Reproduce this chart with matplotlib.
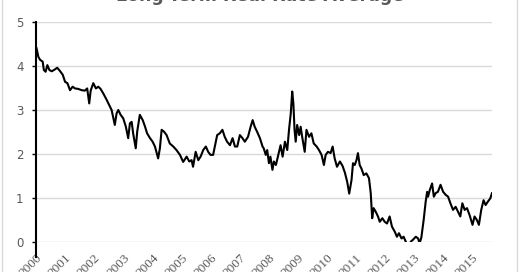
import matplotlib
matplotlib.use("Agg")
import matplotlib.pyplot as plt
from matplotlib.patches import Rectangle

# long-term real rate average (decimal year, percent)
years = [2000.02, 2000.08, 2000.14, 2000.23, 2000.27, 2000.33, 2000.39, 2000.46, 2000.54, 2000.62,
         2000.73, 2000.82, 2000.92, 2001.00, 2001.08, 2001.17, 2001.26, 2001.34, 2001.45, 2001.57,
         2001.68, 2001.76, 2001.83, 2001.88, 2001.97, 2002.06, 2002.14, 2002.22, 2002.31, 2002.43,
         2002.52, 2002.60, 2002.66, 2002.71, 2002.77, 2002.83, 2002.91, 2003.00, 2003.09, 2003.17,
         2003.23, 2003.29, 2003.34, 2003.43, 2003.48, 2003.57, 2003.67, 2003.75, 2003.82, 2003.92,
         2004.01, 2004.09, 2004.20, 2004.26, 2004.32, 2004.40, 2004.49, 2004.60, 2004.72, 2004.83,
         2004.95, 2005.06, 2005.18, 2005.27, 2005.35, 2005.40, 2005.49, 2005.58, 2005.66, 2005.75,
         2005.84, 2005.92, 2006.00, 2006.09, 2006.15, 2006.23, 2006.32, 2006.41, 2006.49, 2006.57,
         2006.67, 2006.76, 2006.84, 2006.92, 2007.01, 2007.10, 2007.18, 2007.29, 2007.38, 2007.45,
         2007.52, 2007.60, 2007.70, 2007.79, 2007.83, 2007.90, 2007.95, 2008.01, 2008.06, 2008.13,
         2008.18, 2008.25, 2008.33, 2008.41, 2008.48, 2008.56, 2008.64, 2008.70, 2008.76, 2008.81,
         2008.85, 2008.89, 2008.93, 2008.98, 2009.05, 2009.10, 2009.16, 2009.24, 2009.30, 2009.39,
         2009.47, 2009.55, 2009.65, 2009.73, 2009.82, 2009.90, 2009.96, 2010.04, 2010.13, 2010.20,
         2010.27, 2010.35, 2010.45, 2010.54, 2010.62, 2010.70, 2010.77, 2010.85, 2010.90, 2010.96,
         2011.02, 2011.07, 2011.13, 2011.19, 2011.27, 2011.36, 2011.45, 2011.51, 2011.56, 2011.61,
         2011.68, 2011.76, 2011.82, 2011.91, 2011.99, 2012.07, 2012.16, 2012.24, 2012.34, 2012.41,
         2012.48, 2012.57, 2012.64, 2012.74, 2012.82, 2012.89, 2012.96, 2013.06, 2013.14, 2013.19,
         2013.25, 2013.33, 2013.40, 2013.45, 2013.48, 2013.54, 2013.62, 2013.68, 2013.74, 2013.82,
         2013.91, 2014.00, 2014.09, 2014.17, 2014.25, 2014.34, 2014.43, 2014.51, 2014.59, 2014.66,
         2014.74, 2014.82, 2014.91, 2015.01, 2015.08, 2015.16, 2015.23, 2015.31, 2015.39, 2015.46,
         2015.54, 2015.62, 2015.68]
rate = [4.40, 4.21, 4.14, 4.10, 3.91, 3.87, 4.02, 3.91, 3.88, 3.91,
        3.96, 3.89, 3.80, 3.64, 3.61, 3.45, 3.53, 3.49, 3.48, 3.45,
        3.44, 3.49, 3.15, 3.44, 3.61, 3.49, 3.53, 3.48, 3.38, 3.23,
        3.11, 3.00, 2.81, 2.66, 2.92, 3.00, 2.89, 2.81, 2.62, 2.36,
        2.70, 2.73, 2.47, 2.13, 2.51, 2.89, 2.77, 2.62, 2.47, 2.36,
        2.28, 2.17, 1.90, 2.13, 2.55, 2.51, 2.43, 2.24, 2.17, 2.09,
        1.98, 1.82, 1.94, 1.83, 1.86, 1.71, 2.05, 1.86, 1.94, 2.09,
        2.17, 2.05, 1.98, 1.98, 2.17, 2.43, 2.47, 2.55, 2.39, 2.28,
        2.20, 2.36, 2.17, 2.17, 2.43, 2.36, 2.28, 2.39, 2.62, 2.77,
        2.62, 2.51, 2.36, 2.17, 2.13, 1.98, 2.09, 1.79, 1.94, 1.64,
        1.83, 1.75, 1.98, 2.20, 1.94, 2.28, 2.09, 2.55, 2.92, 3.42,
        3.15, 2.55, 2.28, 2.66, 2.43, 2.62, 2.36, 2.05, 2.55, 2.39,
        2.47, 2.24, 2.17, 2.09, 1.98, 1.75, 1.98, 2.05, 2.02, 2.17,
        1.90, 1.71, 1.83, 1.73, 1.58, 1.37, 1.10, 1.41, 1.79, 1.75,
        1.86, 2.02, 1.75, 1.67, 1.52, 1.56, 1.45, 1.11, 0.54, 0.77,
        0.69, 0.58, 0.46, 0.54, 0.46, 0.42, 0.58, 0.35, 0.23, 0.12,
        0.20, 0.08, 0.12, -0.03, -0.11, 0.01, 0.05, 0.12, 0.08, -0.03,
        0.10, 0.50, 0.92, 1.14, 1.03, 1.18, 1.33, 1.03, 1.11, 1.14,
        1.30, 1.14, 1.07, 1.03, 0.88, 0.73, 0.80, 0.69, 0.58, 0.88,
        0.73, 0.77, 0.61, 0.39, 0.58, 0.50, 0.39, 0.73, 0.95, 0.84,
        0.92, 0.99, 1.11]

year_ticks = list(range(2000, 2016))
y_ticks = [0, 1, 2, 3, 4, 5]
title = "Long-Term Real Rate Average"

fig = plt.figure(figsize=(5.2, 2.72), dpi=100)
ax = fig.add_axes([36/520, 1-242/272, (492-36)/520, (242-22)/272])

for v in y_ticks:
    ax.axhline(v, color="#d9d9d9", lw=1.0, zorder=1)
ax.plot(years, rate, color="black", lw=1.5, zorder=3)

ax.set_xlim(2000, 2015.68)
ax.set_ylim(0, 5)
ax.set_yticks(y_ticks)
ax.set_xticks(year_ticks)
ax.set_xticklabels([str(y) for y in year_ticks], rotation=45, ha="right",
                   rotation_mode="anchor", fontsize=9.5, color="#595959",
                   family="Liberation Serif")
ax.tick_params(axis="x", length=0, pad=7)
ax.tick_params(axis="y", length=3, width=1, color="black", labelsize=8.5,
               labelcolor="#595959", pad=6)
for s in ["top", "right", "bottom"]:
    ax.spines[s].set_visible(False)
ax.spines["left"].set_linewidth(1.5)
ax.spines["left"].set_bounds(-0.35, 5)
ax.set_clip_on(False)

fig.text(0.5, 0.998, title, ha="center", va="baseline", fontsize=12.5,
         fontweight="bold", color="#595959")
fig.patches.append(Rectangle((1.5/520, -0.1), 515.5/520, 1.2, transform=fig.transFigure,
                             fill=False, edgecolor="#d9d9d9", lw=1))

plt.savefig("out.png", dpi=100)
plt.close()
